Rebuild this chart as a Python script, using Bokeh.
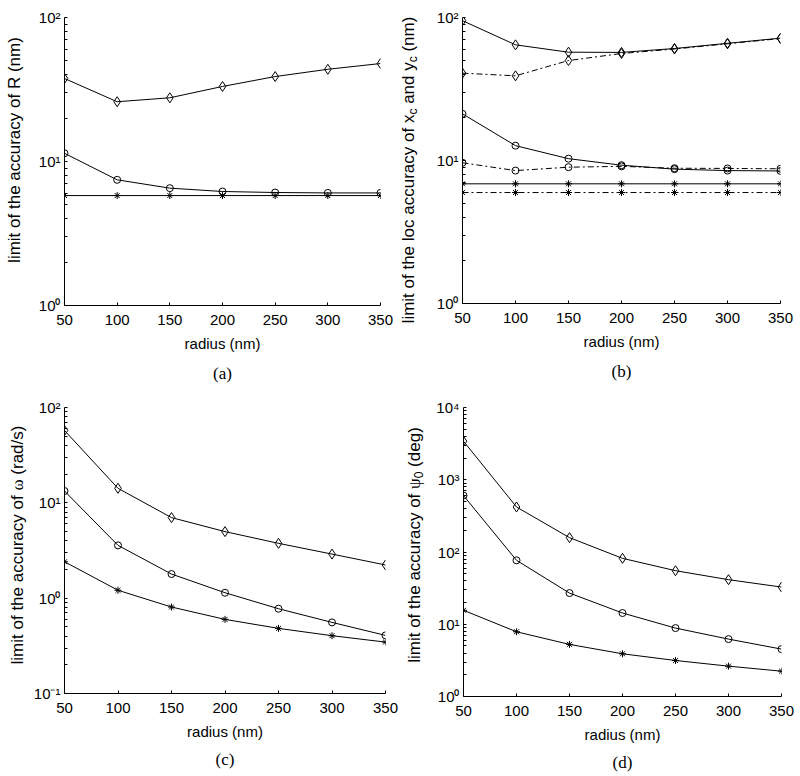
from bokeh.plotting import figure
from bokeh.models import Range1d, FixedTicker, CustomJSTickFormatter, ColumnDataSource, Title, Div
from bokeh.layouts import column, row
from bokeh.embed import file_html
from bokeh.resources import INLINE

# ---------------- data ----------------
radius = [50, 100, 150, 200, 250, 300, 350]
x_ticks = [50, 100, 150, 200, 250, 300, 350]

# (a) limit of the accuracy of R (nm)
a_diamond = [37.7, 26.0, 27.7, 33.2, 38.9, 43.7, 47.9]
a_circle = [11.4, 7.46, 6.53, 6.19, 6.09, 6.05, 6.05]
a_star = [5.8, 5.8, 5.8, 5.8, 5.8, 5.8, 5.8]
a_yticks = [1, 10, 100]

# (b) limit of the loc accuracy of xc and yc (nm)
b_diamond_solid = [95.0, 64.4, 57.2, 57.0, 60.7, 66.0, 71.7]
b_diamond_dash = [40.8, 39.1, 50.0, 56.0, 60.2, 65.5, 71.3]
b_circle_solid = [21.2, 12.7, 10.3, 9.27, 8.7, 8.5, 8.45]
b_circle_dash = [9.64, 8.5, 8.98, 9.1, 8.83, 8.8, 8.75]
b_star_solid = [6.87, 6.87, 6.87, 6.87, 6.87, 6.87, 6.87]
b_star_dash = [5.97, 5.97, 5.97, 5.97, 5.97, 5.97, 5.97]
b_yticks = [1, 10, 100]

# (c) limit of the accuracy of omega (rad/s)
c_diamond = [57.4, 14.2, 7.0, 4.99, 3.76, 2.9, 2.23]
c_circle = [13.3, 3.58, 1.79, 1.14, 0.775, 0.557, 0.407]
c_star = [2.41, 1.21, 0.807, 0.599, 0.482, 0.404, 0.346]
c_yticks = [0.1, 1, 10, 100]

# (d) limit of the accuracy of psi0 (deg)
d_diamond = [3415, 420, 158, 81.7, 55.1, 41.4, 32.7]
d_circle = [604, 76.7, 27.0, 14.3, 8.85, 6.23, 4.53]
d_star = [15.6, 7.87, 5.26, 3.9, 3.15, 2.63, 2.24]
d_yticks = [1, 10, 100, 1000, 10000]

# y-axis label pieces: (text, kind)  kind: n = normal, sub = subscript, greek = serif greek
a_label = [("limit of the accuracy of R (nm)", "n")]
b_label = [("limit of the loc accuracy of x", "n"), ("c", "sub"), (" and y", "n"),
           ("c", "sub"), (" (nm)", "n")]
c_label = [("limit of the accuracy of ", "n"), ("\u03c9", "greek"), (" (rad/s)", "n")]
d_label = [("limit of the accuracy of ", "n"), ("\u03c8", "greek"), ("0", "sub"), (" (deg)", "n")]

# ---------------- styling helpers ----------------
SANS = "Liberation Sans"
SERIF = "Liberation Serif"
LAB_W = 28       # width of the strip that carries the rotated y label

SUPER = {"-": "\u207b", "0": "\u2070", "1": "\u00b9", "2": "\u00b2", "3": "\u00b3",
         "4": "\u2074", "5": "\u2075", "6": "\u2076", "7": "\u2077", "8": "\u2078", "9": "\u2079"}
fmt_code = """
const sup = %s;
const e = Math.round(Math.log10(tick));
return "10" + String(e).split("").map(c => sup[c]).join("");
""" % (str(SUPER).replace("'", '"'))


def label_strip(pieces, H, cx, cy):
    """Narrow HTML strip holding the rotated y-axis label (with subscripts / greek)."""
    parts = []
    for txt, kind in pieces:
        t = txt.replace(" ", "&nbsp;") if kind == "n" else txt
        if kind == "sub":
            parts.append(f'<span style="font-size:12px;vertical-align:-4px;">{t}</span>')
        elif kind == "greek":
            parts.append(f'<span style="font-family:\'{SERIF}\',\'Times New Roman\',serif;">{t}</span>')
        else:
            parts.append(t)
    inner = "".join(parts)
    html = (f'<div style="position:relative;width:{LAB_W}px;height:{H}px;">'
            f'<div style="position:absolute;left:{cx}px;top:{cy}px;'
            f'transform:translate(-50%,-50%) rotate(180deg);writing-mode:vertical-rl;'
            f'white-space:nowrap;font-family:\'{SANS}\',Arial,Helvetica,sans-serif;'
            f'font-size:17px;line-height:17px;color:#000;">{inner}</div></div>')
    return Div(text=html, width=LAB_W, height=H, margin=0, styles={"overflow": "visible"})


def make_panel(series, yticks, caption, geom):
    (bl, fw, br, bt, fh, bb, cap_dx, cap_standoff) = geom
    y0, y1 = yticks[0], yticks[-1]
    p = figure(frame_width=fw, frame_height=fh, min_border_left=bl, min_border_right=br,
               min_border_top=bt, min_border_bottom=bb,
               x_range=Range1d(radius[0], radius[-1]), y_range=Range1d(y0, y1),
               y_axis_type="log", output_backend="svg", toolbar_location=None,
               background_fill_color="white", border_fill_color="white")
    p.outline_line_color = None
    p.xgrid.visible = False
    p.ygrid.visible = False

    minors = []
    for t in yticks[:-1]:
        for m in range(2, 10):
            minors.append(t * m)

    for ax in (p.xaxis[0], p.yaxis[0]):
        ax.axis_line_color = "black"
        ax.axis_line_width = 1
        ax.major_tick_line_color = "black"
        ax.minor_tick_line_color = "black"
        ax.major_tick_in = 3
        ax.major_tick_out = 0
        ax.minor_tick_in = 3
        ax.minor_tick_out = 0
        ax.major_label_text_font = SANS
        ax.major_label_text_font_size = "15px"
        ax.major_label_text_color = "black"

    xa = p.xaxis[0]
    xa.ticker = FixedTicker(ticks=x_ticks, minor_ticks=[])
    xa.major_label_standoff = 9
    xa.axis_label = "radius (nm)"
    xa.axis_label_text_font = SANS
    xa.axis_label_text_font_size = "15px"
    xa.axis_label_text_font_style = "normal"
    xa.axis_label_text_color = "black"
    xa.axis_label_standoff = 7

    ya = p.yaxis[0]
    ya.ticker = FixedTicker(ticks=yticks, minor_ticks=minors)
    ya.formatter = CustomJSTickFormatter(code=fmt_code)
    ya.major_label_standoff = 4
    ya.axis_label = None

    for vals, marker, dash in series:
        src = ColumnDataSource(dict(x=radius, y=vals))
        p.line("x", "y", source=src, line_color="black", line_width=1, line_dash=dash)
        size = {"diamond": 10, "circle": 7, "asterisk": 7}[marker]
        p.scatter("x", "y", source=src, marker=marker, size=size,
                  line_color="black", line_width=1, fill_color=None)

    p.add_layout(Title(text=caption, align="center", offset=cap_dx, standoff=cap_standoff,
                       text_font=SERIF, text_font_size="17px", text_font_style="normal",
                       text_color="black"), "below")
    return p


H1, H2 = 386, 386

pa = make_panel(
    [(a_diamond, "diamond", "solid"), (a_circle, "circle", "solid"), (a_star, "asterisk", "solid")],
    a_yticks, "(a)", (36, 316, 20, 15, 288, 83, -22, 14))
la = label_strip(a_label, H1, 13.5, 150)

pb = make_panel(
    [(b_diamond_solid, "diamond", "solid"), (b_diamond_dash, "diamond", "6 3 2 3"),
     (b_circle_solid, "circle", "solid"), (b_circle_dash, "circle", "6 3 2 3"),
     (b_star_solid, "asterisk", "solid"), (b_star_dash, "asterisk", "6 3 2 3")],
    b_yticks, "(b)", (34, 318, 20, 17, 286, 83, 26, 14))
lb = label_strip(b_label, H1, 10.5, 170)

pc = make_panel(
    [(c_diamond, "diamond", "solid"), (c_circle, "circle", "solid"), (c_star, "asterisk", "solid")],
    c_yticks, "(c)", (36, 321, 15, 20, 286, 80, -11, 10))
lc = label_strip(c_label, H2, 16.5, 157.5)

pd = make_panel(
    [(d_diamond, "diamond", "solid"), (d_circle, "circle", "solid"), (d_star, "asterisk", "solid")],
    d_yticks, "(d)", (35, 318, 19, 18, 289, 79, 8, 10))
ld = label_strip(d_label, H2, 17, 157.5)

layout = column(row(la, pa, lb, pb), row(lc, pc, ld, pd))

with open("out.html", "w") as f:
    f.write(file_html(layout, INLINE))
